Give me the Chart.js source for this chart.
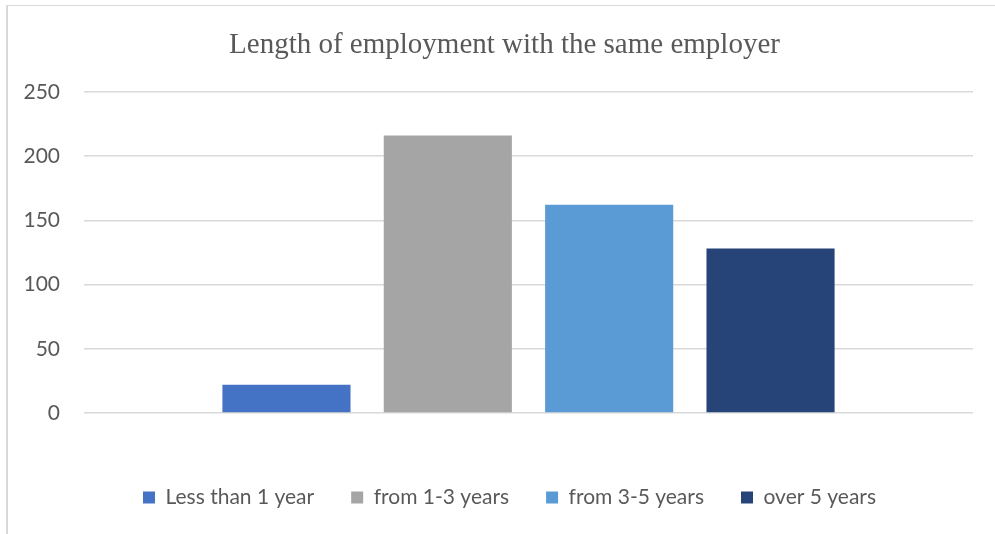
<!DOCTYPE html>
<html>
<head>
<meta charset="utf-8">
<script src="https://cdn.jsdelivr.net/npm/chart.js@4"></script>
<style>
  html, body { margin: 0; padding: 0; background: #ffffff; }
  #wrap { position: relative; width: 995px; height: 534px; }
  #frame {
    position: absolute; left: 6px; top: 5px; right: 0; bottom: 0;
    border-left: 2px solid #d9d9d9; border-top: 1px solid #d9d9d9;
  }
  #chart { position: absolute; left: 0; top: 0; }
</style>
</head>
<body>
<div id="wrap">
  <div id="frame"></div>
  <canvas id="chart" width="995" height="534"></canvas>
</div>
<script>
// Survey answers: how long respondents have worked for their current employer
const chartTitle = 'Length of employment with the same employer';
const categories = [''];
const seriesNames = ['Less than 1 year', 'from 1-3 years', 'from 3-5 years', 'over 5 years'];
const seriesValues = [22, 216, 162, 128];
const seriesColors = ['#4472C4', '#A5A5A5', '#5B9BD5', '#264478'];
const yTicks = [0, 50, 100, 150, 200, 250];

const datasets = seriesNames.map((name, i) => ({
  label: name,
  data: [seriesValues[i]],
  backgroundColor: seriesColors[i],
  borderWidth: 0,
  barPercentage: 0.794,
  categoryPercentage: 0.726
}));

// Title and legend are centred on the plot rather than the whole canvas:
// trim the left edge of their boxes after layout.
const centreOnPlot = {
  id: 'centreOnPlot',
  afterLayout(chart) {
    if (chart.titleBlock) chart.titleBlock.left += 36;
    if (chart.legend) chart.legend.left += 46;
  }
};

new Chart(document.getElementById('chart'), {
  type: 'bar',
  data: { labels: categories, datasets },
  plugins: [centreOnPlot],
  options: {
    responsive: false,
    animation: false,
    layout: { padding: { left: 0, right: 22, top: 0, bottom: 16 } },
    plugins: {
      tooltip: { enabled: false },
      title: {
        display: true,
        text: chartTitle,
        color: '#595959',
        font: { family: '"Liberation Serif", "Times New Roman", serif', size: 29, weight: 'normal', lineHeight: 1.2 },
        padding: { top: 28, bottom: 29 }
      },
      legend: {
        position: 'bottom',
        labels: {
          color: '#595959',
          font: { family: 'Lato, "Open Sans", sans-serif', size: 21 },
          boxWidth: 12,
          boxHeight: 12,
          padding: 37
        }
      }
    },
    scales: {
      x: {
        grid: { display: false },
        border: { display: false },
        ticks: { display: false },
        afterFit: (s) => { s.height = 37; }
      },
      y: {
        min: 0,
        max: 250,
        afterBuildTicks: (s) => { s.ticks = yTicks.map(v => ({ value: v })); },
        grid: { color: '#d9d9d9', lineWidth: 1.5, drawTicks: false },
        border: { display: false },
        ticks: {
          color: '#595959',
          font: { family: 'Lato, "Open Sans", sans-serif', size: 21 },
          padding: 24
        },
        afterFit: (s) => { s.width = 84; }
      }
    }
  }
});
</script>
</body>
</html>
